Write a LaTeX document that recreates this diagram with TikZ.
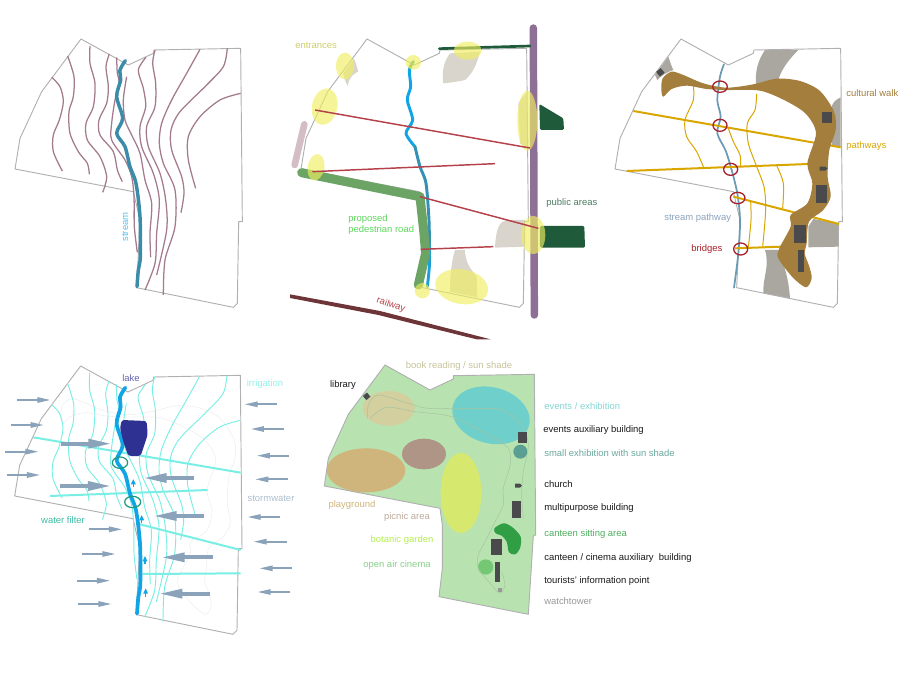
\documentclass[tikz,border=0pt]{standalone}
\usepackage{fontspec}
\setmainfont{Liberation Sans}
\usetikzlibrary{arrows.meta}
\definecolor{siteline}{HTML}{B0B0B0}
\definecolor{contourmauve}{HTML}{A37A8E}
\definecolor{streamteal}{HTML}{3A8CA8}
\definecolor{streamblue}{HTML}{12A5E6}
\definecolor{corridor}{HTML}{8E6F95}
\definecolor{publicgreen}{HTML}{1F5A3A}
\definecolor{roadgreen}{HTML}{6BA464}
\definecolor{redline}{HTML}{B5414A}
\definecolor{railbrown}{HTML}{6E3538}
\definecolor{slopegray}{HTML}{D9D5CC}
\definecolor{hillgray}{HTML}{AAA7A0}
\definecolor{walkbrown}{HTML}{A47E3C}
\definecolor{building}{HTML}{4A4A4C}
\definecolor{pathgold}{HTML}{D9A600}
\definecolor{bridgered}{HTML}{A8232E}
\definecolor{filtercyan}{HTML}{78EEE4}
\definecolor{flowgray}{HTML}{8AA3BB}
\definecolor{lakeblue}{HTML}{2E3192}
\definecolor{filtergreen}{HTML}{1A9A7A}
\definecolor{lawngreen}{HTML}{B8E3B0}
\definecolor{entranceyellow}{HTML}{EFEE62}
\definecolor{bookarea}{HTML}{D3CF9E}
\definecolor{eventsarea}{HTML}{6FCFCB}
\definecolor{smallarea}{HTML}{5B9F93}
\definecolor{picnicarea}{HTML}{AE9585}
\definecolor{playarea}{HTML}{CFB47C}
\definecolor{botanicarea}{HTML}{D6E96E}
\definecolor{cinemaarea}{HTML}{74C873}
\definecolor{sittingarea}{HTML}{2F9E44}
\tikzset{
  sitebound/.style={draw=siteline,line width=.7pt,line join=round},
  contourline/.style={contourmauve,line width=.95pt},
  waterline/.style={line width=#1,line cap=round,line join=round},
  entrance/.style={fill=entranceyellow,fill opacity=.65},
  redaxis/.style={redline,line width=1.1pt},
  goldmain/.style={pathgold,line width=1.5pt},
  goldthin/.style={pathgold,line width=.75pt},
  cyanmain/.style={filtercyan,line width=1.5pt},
  bridgering/.style={draw=bridgered,line width=1pt},
  filterring/.style={draw=filtergreen,line width=.9pt},
  flowsmall/.style={flowgray,line width=1.4pt,-{Triangle[length=10pt,width=4pt]}},
  flowbig/.style={flowgray,line width=3pt,-{Triangle[length=18pt,width=6.5pt]}},
  flowup/.style={streamblue,line width=1pt,-{Triangle[length=4pt,width=3.4pt]}},
  lbl/.style={font=\fontsize{7.1pt}{8.5pt}\selectfont,inner sep=0pt,anchor=west}
}
\newcommand{\siteoutline}[1][]{
\draw[sitebound,#1] (243,57) -- (385,135) -- (460,100) -- (462,90) -- (722,85) -- (727,605) -- (716,605) -- (712,850) -- (700,862) -- (410,803) -- (420,600) -- (400,515) -- (45,447) -- (60,355) -- (125,215) -- cycle;
}
\newcommand{\sitecontours}[1]{
\draw[#1] plot[smooth] coordinates {(155,172) (180,200) (190,245) (178,300) (160,345) (160,395) (187,453)};
\draw[#1] plot[smooth] coordinates {(203,108) (222,170) (220,230) (207,275) (210,340) (235,395) (262,430) (268,463)};
\draw[#1] plot[smooth] coordinates {(270,78) (270,130) (285,190) (280,260) (258,310) (262,360) (300,410) (320,470) (308,517)};
\draw[#1] plot[smooth] coordinates {(328,102) (318,140) (325,200) (320,250) (297,300) (300,345) (340,395) (352,450) (367,485)};
\draw[#1] plot[smooth] coordinates {(350,112) (352,160) (358,190) (345,240) (335,310) (335,360) (375,420) (395,470) (402,530) (403,620) (412,697)};
\draw[#1] plot[smooth] coordinates {(380,170) (370,240) (375,300) (395,345) (420,400) (435,480) (455,550) (450,640) (452,712)};
\draw[#1] plot[smooth] coordinates {(438,112) (415,150) (430,205) (437,260) (420,320) (425,380) (460,460) (478,540) (470,640) (465,730) (435,810)};
\draw[#1] plot[smooth] coordinates {(465,90) (458,130) (467,190) (465,260) (440,320) (445,380) (480,460) (497,540) (500,630) (470,765)};
\draw[#1] plot[smooth] coordinates {(600,88) (560,160) (515,240) (485,310) (478,370) (490,430) (525,510) (525,620) (495,720) (490,825)};
\draw[#1] plot[smooth] coordinates {(682,85) (670,140) (620,195) (540,275) (513,330) (515,390) (545,470) (552,520) (543,578)};
\draw[#1] plot[smooth] coordinates {(722,220) (660,240) (600,290) (565,350) (565,420) (587,505)};
}
\newcommand{\walkshape}[1]{
\path[#1] plot[smooth cycle,tension=.5] coordinates {(190,230) (184,210) (188,175) (215,155) (250,165) (310,190) (380,203) (460,193) (530,176) (600,183) (660,213) (702,275) (707,330) (688,390) (683,470) (692,530) (668,572) (627,605) (620,670) (614,700) (628,740) (635,775) (618,802) (578,772) (535,715) (538,685) (572,620) (572,585) (622,550) (637,490) (622,430) (648,340) (618,282) (558,243) (480,212) (380,210) (320,207) (260,197) (215,207)};
}
\begin{document}
\begin{tikzpicture}[x=.75pt,y=-.75pt]
\useasboundingbox (0,0) rectangle (915,685);
\begin{scope}[shift={(0,20)},scale=1/3]
\siteoutline
\sitecontours{contourline}
\draw[streamteal,waterline=2.6pt] plot[smooth] coordinates {(376,122) (360,150) (362,180) (350,230) (368,295) (350,340) (375,380) (390,440) (408,490) (420,590) (421,710) (415,750) (411,800)};
\end{scope}
\node[lbl,anchor=center,rotate=90,text=streamblue!70!white] (streamlabel) at (125,227) {stream};
\begin{scope}[shift={(280,20)},scale=1/3]
\fill[slopegray] (222,115) .. controls (228,130) and (232,145) .. (235,155) .. controls (222,160) and (208,170) .. (203,198) .. controls (195,185) and (192,170) .. (190,160) -- cycle;
\fill[slopegray] (510,100) -- (600,95) .. controls (590,135) and (578,160) .. (555,180) .. controls (535,185) and (510,188) .. (490,190) .. controls (485,160) and (490,125) .. (510,100) -- cycle;
\fill[slopegray] (740,218) .. controls (725,235) and (715,245) .. (715,255) -- (720,370) -- (745,385) -- cycle;
\fill[slopegray] (735,600) -- (680,600) .. controls (660,605) and (648,620) .. (645,683) -- (735,680) -- cycle;
\fill[slopegray] (525,690) -- (555,690) .. controls (555,730) and (575,750) .. (590,770) -- (592,832) -- (510,815) .. controls (510,770) and (515,720) .. (525,690) -- cycle;
\siteoutline[shift={(18,0)}]
\draw[corridor,line width=5.6pt,line cap=round] (760,24) -- (763,885);
\draw[publicgreen,line width=2pt,line cap=round] (478,86) -- (750,78);
\fill[publicgreen,rounded corners=1pt] (778,252) -- (850,295) -- (852,330) -- (780,330) -- cycle;
\fill[publicgreen,rounded corners=1pt] (780,618) -- (913,618) -- (915,683) -- (780,683) -- cycle;
\draw[streamblue,waterline=2.2pt] plot[smooth] coordinates {(400,125) (388,150) (392,200) (382,240) (398,300) (378,340) (405,380)};
\draw[streamteal!80!streamblue,waterline=2.2pt] plot[smooth] coordinates {(405,380) (420,440) (438,490) (447,600) (448,680)};
\draw[streamblue!80!streamteal,waterline=2.2pt] plot[smooth] coordinates {(448,680) (448,740) (442,800)};
\draw[roadgreen,waterline=6.8pt] (65,458) -- (420,530) -- (432,640) -- (437,700) -- (415,795);
\draw[roadgreen,waterline=2pt] (400,125) -- (390,142);
\fill[entrance] (195,138) ellipse [x radius=27,y radius=40];
\fill[entrance] (134,260) circle [x radius=38,y radius=55,rotate=-12];
\fill[entrance] (400,127) ellipse [x radius=23,y radius=22];
\fill[entrance] (563,92) ellipse [x radius=42,y radius=27];
\fill[entrance] (742,302) ellipse [x radius=30,y radius=90];
\fill[entrance] (760,645) ellipse [x radius=36,y radius=57];
\fill[entrance] (545,800) circle [x radius=80,y radius=52,rotate=-10];
\fill[entrance] (427,812) ellipse [x radius=23,y radius=23];
\fill[entrance] (108,442) circle [x radius=25,y radius=40,rotate=-10];
\draw[draw=purple!30!gray!40,waterline=5pt] (73,313) -- (44,435);
\draw[redaxis] (105,270) -- (750,384);
\draw[redaxis] (97,455) -- (645,431);
\draw[redaxis] (420,530) -- (775,625);
\draw[redaxis] (422,688) -- (640,680);
\fill[railbrown] (30,823) -- (300,873) -- (632,958) -- (590,958) -- (295,885) -- (30,834) -- cycle;
\end{scope}
\node[lbl,text=entranceyellow!70!gray] (entranceslabel) at (295,45) {entrances};
\node[lbl,text=green!60!gray!80!white] (roadlabel) at (348,219) {proposed};
\node[lbl,text=green!60!gray!80!white] (roadlabeltwo) at (348,230) {pedestrian road};
\node[lbl,text=publicgreen!80!white] (publiclabel) at (546,203) {public areas};
\node[lbl,anchor=center,rotate=-18,text=redline] (railwaylabel) at (391,305) {railway};
\begin{scope}[shift={(600,20)},scale=1/3]
\fill[hillgray] (495,90) -- (595,90) .. controls (570,115) and (545,145) .. (535,180) .. controls (515,180) and (490,185) .. (468,193) .. controls (465,150) and (475,120) .. (495,90) -- cycle;
\fill[hillgray] (205,110) .. controls (210,125) and (215,140) .. (220,150) .. controls (205,155) and (185,165) .. (172,180) -- (165,165) -- cycle;
\fill[hillgray] (722,232) .. controls (705,240) and (695,250) .. (695,265) -- (700,300) -- (695,375) -- (722,382) -- cycle;
\fill[hillgray] (717,610) -- (640,597) -- (625,620) -- (625,682) -- (716,680) -- cycle;
\fill[hillgray] (495,690) -- (535,690) .. controls (545,720) and (565,760) .. (570,835) -- (490,820) .. controls (488,770) and (510,740) .. (495,690) -- cycle;
\siteoutline
\draw[streamteal!40!flowgray,waterline=1.3pt] plot[smooth] coordinates {(372,133) (360,170) (352,240) (362,290) (352,340) (380,400) (410,510) (420,600) (415,700) (402,803)};
\draw[goldmain] (100,273) -- (722,382);
\draw[goldmain] (80,453) -- (625,432);
\draw[goldmain] (400,530) -- (717,612);
\draw[goldmain] (405,685) -- (545,680);
\draw[goldthin] plot[smooth] coordinates {(280,195) (280,240) (255,300) (260,350) (290,395) (312,445)};
\draw[goldthin] plot[smooth] coordinates {(385,325) (400,365) (420,405) (422,440)};
\draw[goldthin] plot[smooth] coordinates {(470,222) (465,270) (442,310) (445,370) (470,440) (492,500) (497,570) (488,680)};
\draw[goldthin] plot[smooth] coordinates {(530,437) (550,490) (548,565)};
\draw[goldthin] plot[smooth] coordinates {(452,545) (453,600) (445,683)};
\walkshape{fill=walkbrown}
\fill[building] (667,275) rectangle (697,310);
\fill[building] (659,440) -- (675,440) -- (683,446) -- (675,452) -- (659,452) -- cycle;
\fill[building] (648,495) rectangle (680,548);
\fill[building] (583,615) rectangle (618,668);
\fill[building] (595,690) rectangle (612,755);
\fill[building,rotate around={40:(181,157)}] (172,148) rectangle (190,166);
\draw[bridgering] (360,200) ellipse [x radius=22,y radius=17];
\draw[bridgering] (360,316) ellipse [x radius=21,y radius=18];
\draw[bridgering] (392,448) ellipse [x radius=21,y radius=18];
\draw[bridgering] (413,534) ellipse [x radius=22,y radius=17];
\draw[bridgering] (422,687) ellipse [x radius=21,y radius=18];
\end{scope}
\node[lbl,text=walkbrown] (walklabel) at (846,93) {cultural walk};
\node[lbl,text=pathgold] (pathlabel) at (846,146) {pathways};
\node[lbl,text=flowgray] (streampathlabel) at (664,218) {stream pathway};
\node[lbl,text=bridgered] (bridgelabel) at (691,249) {bridges};
\begin{scope}[shift={(0,355)},scale=1/3]
\begin{scope}[shift={(-1,-24)}]
\walkshape{draw=gray!12,line width=.5pt}
\siteoutline
\sitecontours{filtercyan,line width=.7pt}
\end{scope}
\draw[cyanmain] (100,247) -- (722,353);
\draw[cyanmain] (150,423) -- (623,405);
\draw[cyanmain] (420,508) -- (722,585);
\draw[cyanmain] (428,657) -- (722,655);
\draw[streamblue,waterline=2.8pt] plot[smooth] coordinates {(376,98) (360,126) (362,156) (350,206) (368,271) (350,316) (375,356) (390,416) (408,466) (420,566) (421,686) (415,726) (411,776)};
\fill[lakeblue,rounded corners=2pt] (365,195) -- (440,198) -- (443,240) -- (422,303) -- (385,303) -- (370,260) -- (360,220) -- cycle;
\draw[filterring] (360,323) ellipse [x radius=23,y radius=17];
\draw[filterring] (398,441) ellipse [x radius=24,y radius=17];
\draw[flowsmall] (52,135) -- (152,135);
\draw[flowsmall] (32,210) -- (132,210);
\draw[flowsmall] (16,290) -- (116,290);
\draw[flowsmall] (21,360) -- (121,360);
\draw[flowsmall] (267,523) -- (367,523);
\draw[flowsmall] (247,597) -- (347,597);
\draw[flowsmall] (231,677) -- (331,677);
\draw[flowsmall] (235,747) -- (335,747);
\draw[flowsmall] (832,148) -- (733,148);
\draw[flowsmall] (852,222) -- (752,222);
\draw[flowsmall] (868,302) -- (770,302);
\draw[flowsmall] (863,373) -- (765,373);
\draw[flowsmall] (840,486) -- (742,486);
\draw[flowsmall] (860,560) -- (760,560);
\draw[flowsmall] (877,640) -- (778,640);
\draw[flowsmall] (871,711) -- (772,711);
\draw[flowbig] (182,266) -- (337,266);
\draw[flowbig] (181,393) -- (336,393);
\draw[flowbig] (582,369) -- (428,369);
\draw[flowbig] (613,483) -- (458,483);
\draw[flowbig] (639,607) -- (482,607);
\draw[flowbig] (631,716) -- (475,716);
\draw[flowup] (400,397) -- (400,372);
\draw[flowup] (425,503) -- (425,480);
\draw[flowup] (435,627) -- (435,603);
\draw[flowup] (437,725) -- (437,700);
\end{scope}
\node[lbl,anchor=center,text=lakeblue!75!white] (lakelabel) at (131,378) {lake};
\node[lbl,anchor=center,text=filtercyan!80!white] (irrigationlabel) at (265,384) {irrigation};
\node[lbl,anchor=center,text=flowgray!70!white] (stormlabel) at (271,498) {stormwater};
\node[lbl,anchor=center,text=filtergreen!60!filtercyan] (filterlabel) at (63,520) {water filter};
\begin{scope}[shift={(315,355)},scale=1/3]
\fill[lawngreen,sitebound] (210,30) -- (345,105) -- (415,72) -- (415,62) -- (658,58) -- (662,540) -- (655,543) -- (640,778) -- (372,725) -- (382,640) -- (382,510) -- (375,460) -- (28,393) -- (40,310) -- (100,178) -- cycle;
\fill[bookarea] (221,160) ellipse [x radius=78,y radius=52];
\fill[eventsarea] (528,181) circle [x radius=118,y radius=84,rotate=-15];
\fill[smallarea] (616,290) circle [radius=21];
\fill[picnicarea] (327,297) ellipse [x radius=66,y radius=46];
\fill[playarea] (153,346) ellipse [x radius=118,y radius=66];
\fill[botanicarea] (438,414) ellipse [x radius=61,y radius=120];
\fill[cinemaarea] (512,636) circle [radius=23];
\draw[gray!30!lawngreen,line width=.4pt] plot[smooth] coordinates {(158,190) (160,150) (190,120) (280,145) (340,160) (450,160) (560,165) (620,210) (640,270) (625,350) (620,420) (625,490)};
\draw[gray!30!lawngreen,line width=.4pt] plot[smooth] coordinates {(165,190) (215,157) (300,170) (410,185) (520,240) (580,280) (585,330) (565,400) (565,450) (540,500) (510,560) (490,600) (490,640) (530,690) (555,715) (570,690) (560,650)};
\fill[sittingarea] plot[smooth cycle,tension=.5] coordinates {(538,520) (565,505) (590,515) (617,545) (615,580) (600,598) (582,592) (575,560) (560,542) (542,535)};
\fill[building] (608,232) rectangle (635,265);
\fill[building] (590,438) rectangle (618,488);
\fill[building] (600,386) -- (615,386) -- (621,392) -- (615,398) -- (600,398) -- cycle;
\fill[building] (528,551) rectangle (562,601);
\fill[building] (540,620) rectangle (556,681);
\fill[building,rotate around={40:(155,124)}] (147,116) rectangle (163,132);
\fill[gray!80] (549,700) rectangle (561,711);
\end{scope}
\node[lbl,anchor=center,text=bookarea!85!gray] (booklabel) at (459,366) {book reading / sun shade};
\node[lbl,anchor=center,text=black!90] (librarylabel) at (343,385) {library};
\node[lbl,anchor=center,text=playarea] (playlabel) at (352,505) {playground};
\node[lbl,anchor=center,text=picnicarea!80!white] (picniclabel) at (407,517) {picnic area};
\node[lbl,anchor=center,text=botanicarea!80!green!90!yellow] (botaniclabel) at (402,540) {botanic garden};
\node[lbl,anchor=center,text=cinemaarea!85!white] (cinemalabel) at (397,565) {open air cinema};
\node[lbl,text=eventsarea!85!white] (eventslabel) at (544,406) {events / exhibition};
\node[lbl,text=black!90] (auxlabel) at (543,430) {events auxiliary building};
\node[lbl,text=smallarea!90!white] (smalllabel) at (544,453) {small exhibition with sun shade};
\node[lbl,text=black!90] (churchlabel) at (544,484) {church};
\node[lbl,text=black!90] (multilabel) at (544,508) {multipurpose building};
\node[lbl,text=sittingarea!85!white] (sittinglabel) at (544,534) {canteen sitting area};
\node[lbl,text=black!90] (canteenlabel) at (544,558) {canteen / cinema auxiliary\ \ building};
\node[lbl,text=black!90] (touristlabel) at (544,581) {tourists' information point};
\node[lbl,text=gray!80] (towerlabel) at (544,601) {watchtower};
\end{tikzpicture}
\end{document}
